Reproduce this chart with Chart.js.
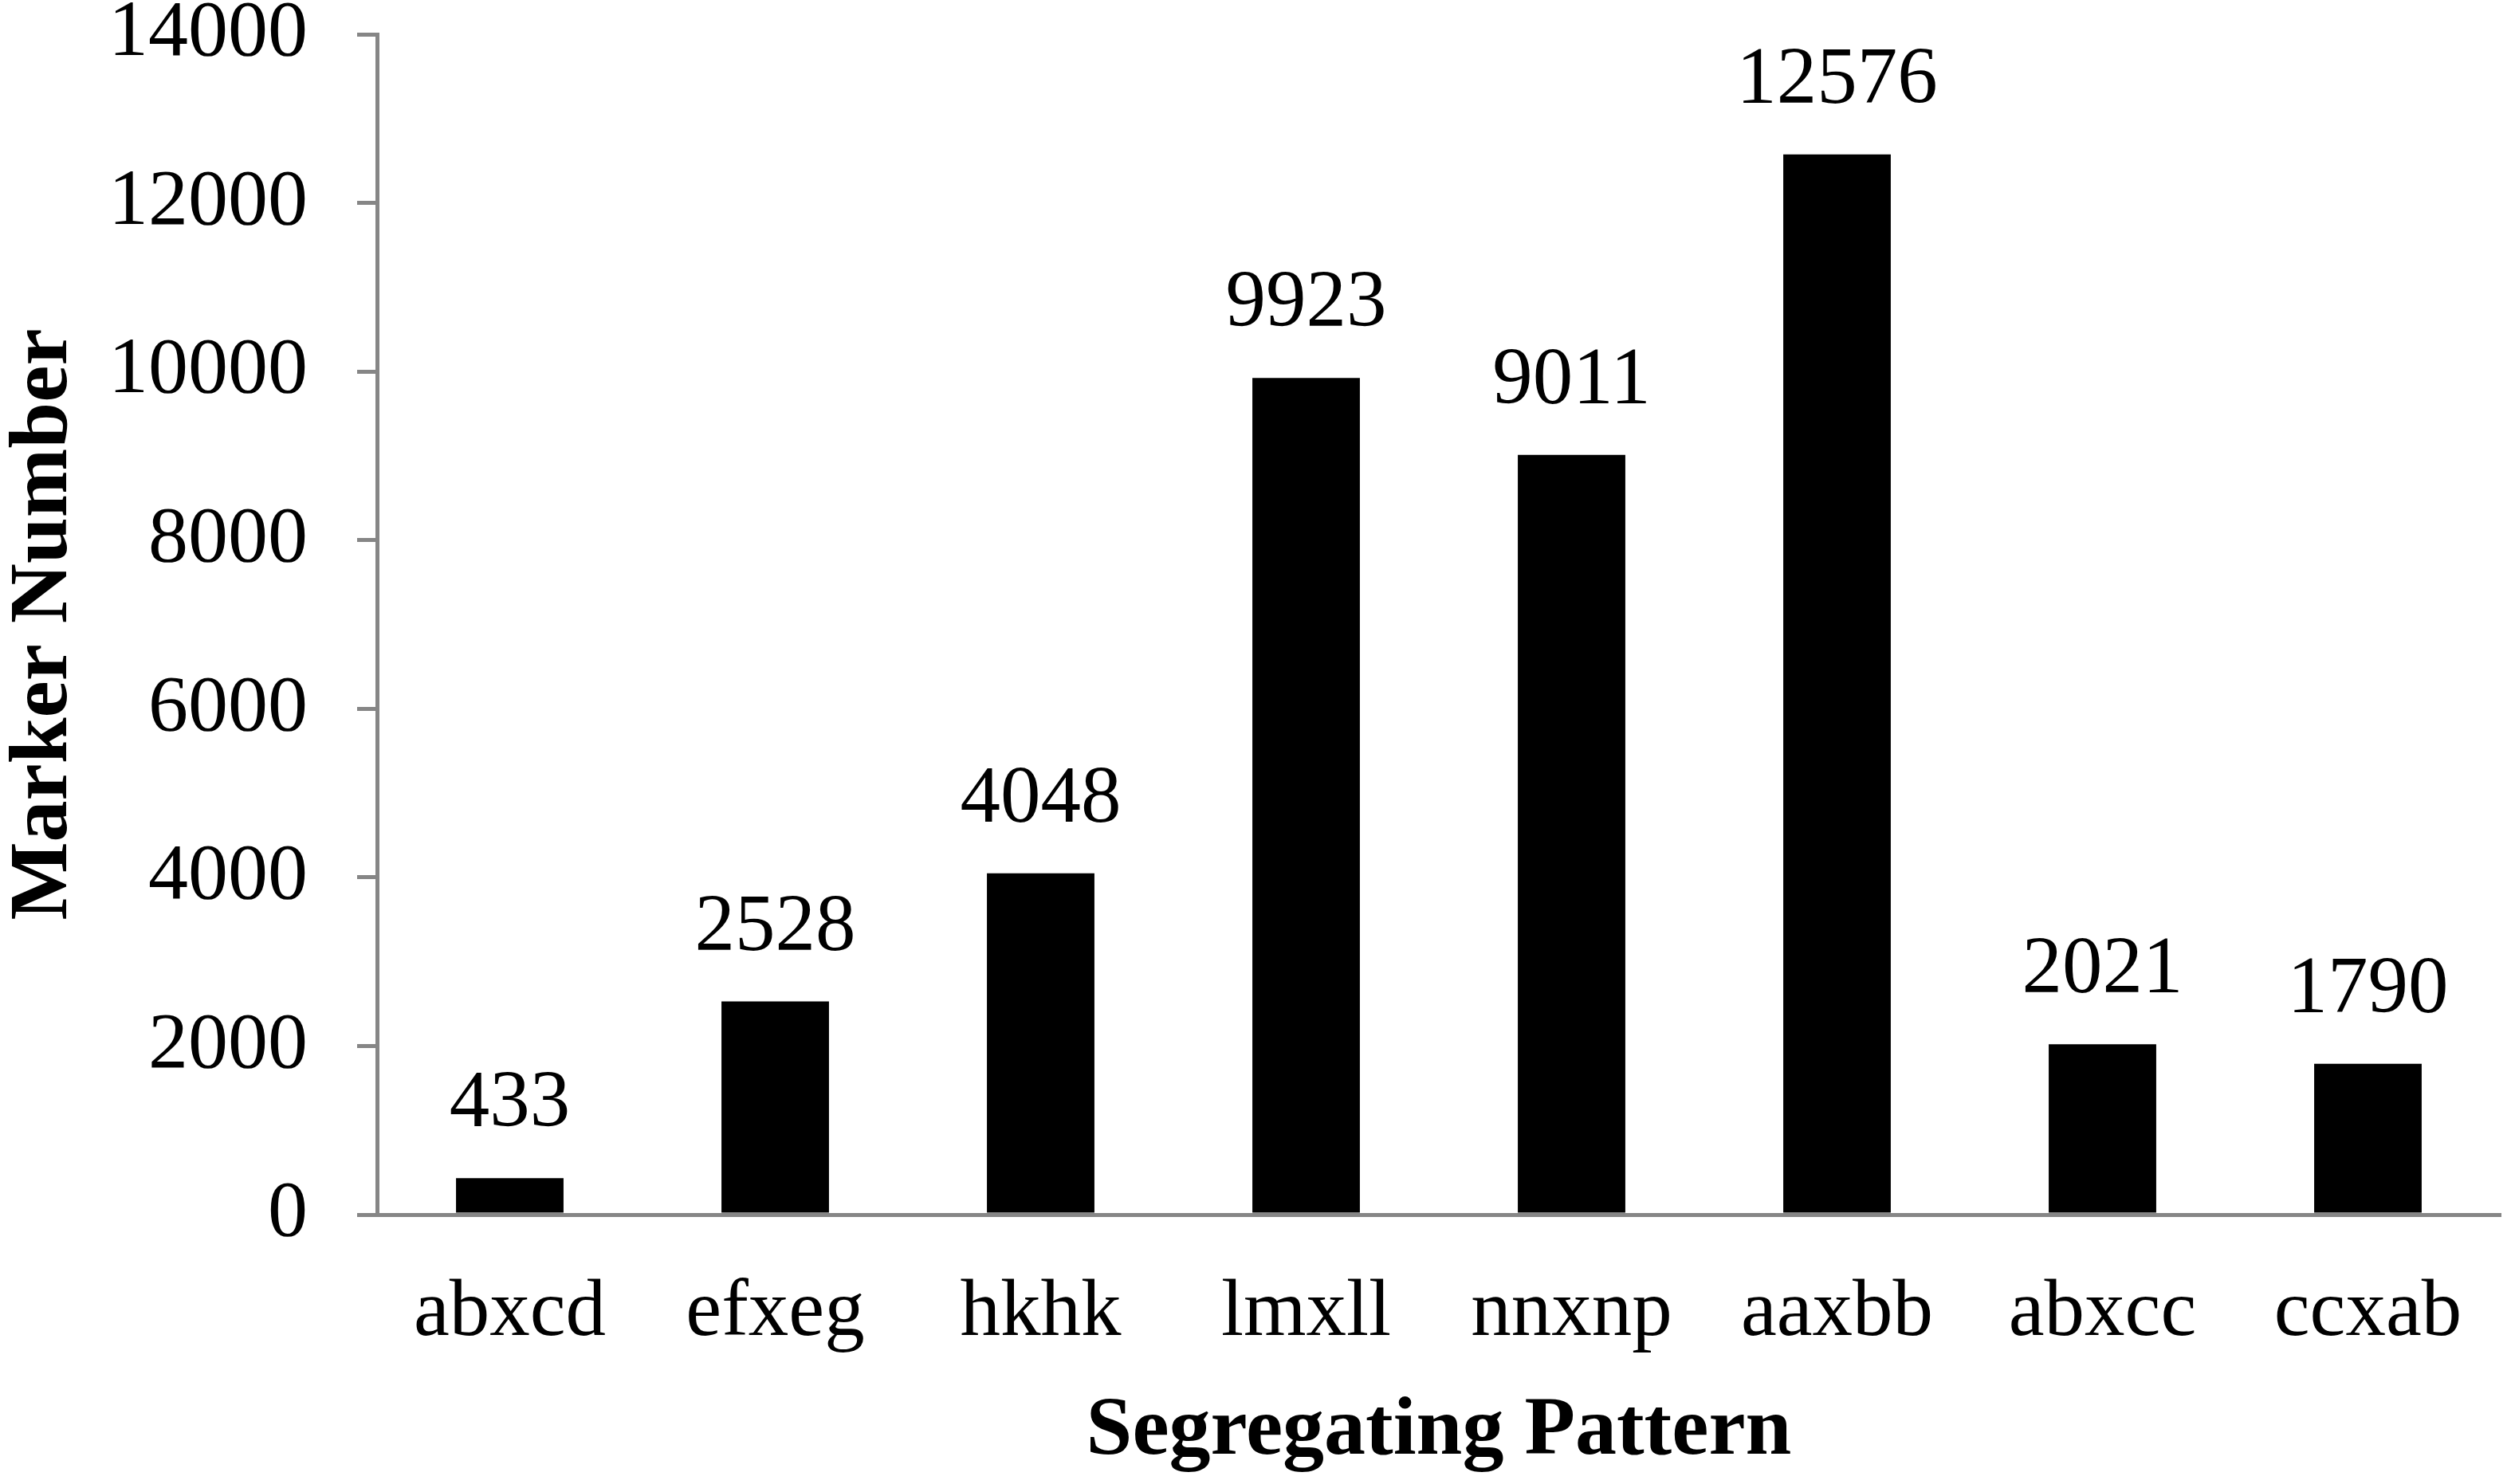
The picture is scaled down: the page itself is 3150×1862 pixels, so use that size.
<!DOCTYPE html>
<html>
<head>
<meta charset="utf-8">
<script src="https://cdn.jsdelivr.net/npm/chart.js@4.4.1/dist/chart.umd.min.js"></script>
<style>
  body { margin: 0; background: #fff; }
</style>
</head>
<body>
<canvas id="myChart" width="3150" height="1862"></canvas>
<script>
const patterns = ['abxcd', 'efxeg', 'hkhk', 'lmxll', 'nnxnp', 'aaxbb', 'abxcc', 'ccxab'];
const markerCounts = [433, 2528, 4048, 9923, 9011, 12576, 2021, 1790];
const yTicks = [0, 2000, 4000, 6000, 8000, 10000, 12000, 14000];

const axisGrey = '#868686';
const serif = "'Liberation Serif', 'Times New Roman', serif";

// numbers written above each bar
const valueLabels = {
    id: 'valueLabels',
    afterDatasetsDraw(chart) {
        const ctx = chart.ctx;
        const meta = chart.getDatasetMeta(0);
        ctx.save();
        ctx.font = '101px ' + serif;
        ctx.fillStyle = '#000';
        ctx.textAlign = 'center';
        ctx.textBaseline = 'alphabetic';
        meta.data.forEach((bar, i) => {
            ctx.fillText(String(markerCounts[i]), bar.x, bar.y - 65);
        });
        ctx.restore();
    }
};

const ctx = document.getElementById('myChart').getContext('2d');
const chart = new Chart(ctx, {
    type: 'bar',
    data: {
        labels: patterns,
        datasets: [{
            data: markerCounts,
            backgroundColor: '#000',
            categoryPercentage: 1,
            barPercentage: 0.405
        }]
    },
    plugins: [valueLabels],
    options: {
        responsive: false,
        animation: false,
        layout: { padding: { top: 43, right: 13, bottom: 0, left: 0 } },
        plugins: {
            legend: { display: false },
            tooltip: { enabled: false }
        },
        scales: {
            x: {
                grid: { display: false },
                border: { display: true, color: axisGrey, width: 5 },
                ticks: {
                    color: '#000',
                    font: { family: serif, size: 101 },
                    padding: 56,
                    maxRotation: 0,
                    autoSkip: false
                },
                title: {
                    display: true,
                    text: 'Segregating Pattern',
                    color: '#000',
                    font: { family: serif, size: 104, weight: 'bold' },
                    padding: { top: 0, bottom: 2 }
                },
                afterFit(scale) { scale.height = 338; }
            },
            y: {
                min: 0,
                max: 14000,
                afterBuildTicks(scale) {
                    scale.ticks = yTicks.map(v => ({ value: v }));
                },
                ticks: {
                    color: '#000',
                    font: { family: serif, size: 100 },
                    padding: 62,
                    callback: v => String(v)
                },
                grid: {
                    drawOnChartArea: false,
                    drawTicks: true,
                    tickLength: 25,
                    color: axisGrey,
                    lineWidth: 5
                },
                border: { display: true, color: axisGrey, width: 5 },
                title: {
                    display: true,
                    text: 'Marker Number',
                    color: '#000',
                    font: { family: serif, size: 104, weight: 'bold', lineHeight: 0.85 },
                    padding: { top: 12, bottom: 12 }
                },
                afterFit(scale) {
                    scale.width = 473;
                    // let the top label hang over the layout padding
                    scale.paddingTop = 0;
                    scale.paddingBottom = 0;
                }
            }
        }
    }
});
</script>
</body>
</html>
